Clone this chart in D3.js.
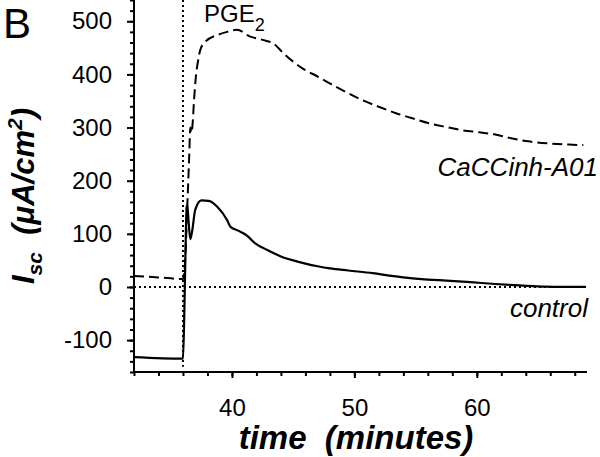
<!DOCTYPE html>
<html>
<head>
<meta charset="utf-8">
<script src="https://cdn.jsdelivr.net/npm/d3@7"></script>
<style>
  html, body { margin: 0; padding: 0; background: #fff; }
  svg { display: block; }
  text { font-family: "Liberation Sans", Arial, sans-serif; fill: #000; }
</style>
</head>
<body>
<svg id="chart" width="600" height="457"></svg>
<script>
// ---- data ----
const inhTime  = [32, 34, 36.0, 36.2, 36.35, 36.5, 36.6, 36.68, 36.78, 36.9, 37.05, 37.2, 37.4, 37.8, 38.8, 39.6, 40.4, 41.5, 42.5, 43.4, 44.2, 45.0, 45.85, 47, 48, 49.3, 50.7, 52, 53.4, 54.8, 56.1, 57.5, 58.8, 60.2, 61.5, 62.8, 64.2, 66, 67.5, 68.7];
const inhValue = [20.5, 18, 15, 60, 150, 240, 300, 290, 305, 350, 395, 421, 445, 461, 474, 480, 484, 471, 465, 458, 440, 424, 410, 396, 383, 367, 351, 339, 327, 317, 308, 301, 295, 291, 287, 280, 274, 270, 268, 267];

const ctrlTime  = [32, 36.0, 36.1, 36.2, 36.3, 36.36, 36.45, 36.6, 36.75, 37.0, 37.5, 38.1, 38.8, 39.6, 39.86, 40.5, 41.2, 41.9, 42.85, 43.95, 45, 46, 47, 48, 49.5, 51.5, 53, 54.2, 56, 57.5, 59.5, 61.5, 63.5, 65.6, 67, 68.9];
const ctrlValue = [-132, -135, -60, 60, 150, 154, 125, 90, 105, 145, 163, 162, 151, 126, 114, 106, 97, 82, 70, 58, 50, 44, 39, 35, 31, 26, 21, 17.5, 14, 12, 9, 5.6, 3, 0.5, 0, 0];

const yMajorTicks = [-100, 0, 100, 200, 300, 400, 500];
const yMinorTicks = d3.range(-160, 541, 20);
const xMajorTicks = [40, 50, 60];
const xMinorTicks = d3.range(32, 69.1, 2);
const stimulusTime = 36;

// ---- layout ----
const svg = d3.select("#chart");
const mLeft = 134, mRight = 587, mTop = 0, mBottom = 372;
const x = d3.scaleLinear().domain([32, 69]).range([mLeft, mRight]);
const y = d3.scaleLinear().domain([-160, 540]).range([mBottom, mTop]);
const plain = d => String(d);

// axes
const yMinor = svg.append("g").attr("transform", `translate(${mLeft},0)`)
  .call(d3.axisLeft(y).tickValues(yMinorTicks).tickSize(4).tickFormat(""));
const yMajor = svg.append("g").attr("transform", `translate(${mLeft},0)`)
  .call(d3.axisLeft(y).tickValues(yMajorTicks).tickSize(7).tickPadding(15).tickFormat(plain));
const xMinor = svg.append("g").attr("transform", `translate(0,${mBottom})`)
  .call(d3.axisBottom(x).tickValues(xMinorTicks).tickSize(4).tickFormat(""));
const xMajor = svg.append("g").attr("transform", `translate(0,${mBottom})`)
  .call(d3.axisBottom(x).tickValues(xMajorTicks).tickSize(6).tickPadding(21).tickFormat(plain));

[yMinor, yMajor, xMinor, xMajor].forEach(g => {
  g.select(".domain").attr("stroke", "#000").attr("stroke-width", 2);
  g.selectAll(".tick line").attr("stroke", "#000").attr("stroke-width", 2);
  g.selectAll(".tick text").style("font-size", "24px").attr("fill", "#000");
});
yMajor.select(".domain").attr("d", `M0,${y(-160)}V${y(540)}`);
yMinor.select(".domain").attr("d", `M0,${y(-160)}V${y(540)}`);
xMajor.select(".domain").attr("d", `M${x(32)},0H${x(69)}`);
xMinor.select(".domain").attr("d", `M${x(32)},0H${x(69)}`);

// reference dotted lines
svg.append("line")
  .attr("x1", x(32)).attr("x2", x(69)).attr("y1", y(0)).attr("y2", y(0))
  .attr("stroke", "#000").attr("stroke-width", 2).attr("stroke-dasharray", "2,3");
svg.append("line")
  .attr("x1", x(stimulusTime)).attr("x2", x(stimulusTime)).attr("y1", y(540)).attr("y2", y(-150))
  .attr("stroke", "#000").attr("stroke-width", 2).attr("stroke-dasharray", "2,3");

// series
const line = d3.line().x(d => x(d[0])).y(d => y(d[1])).curve(d3.curveMonotoneX);
svg.append("path")
  .datum(inhTime.map((t, i) => [t, inhValue[i]]))
  .attr("d", line).attr("fill", "none").attr("stroke", "#000")
  .attr("stroke-width", 2).attr("stroke-dasharray", "10,5");
svg.append("path")
  .datum(ctrlTime.map((t, i) => [t, ctrlValue[i]]))
  .attr("d", line).attr("fill", "none").attr("stroke", "#000")
  .attr("stroke-width", 2.2);

// texts
svg.append("text").attr("x", 3).attr("y", 38).style("font-size", "42px").text("B");

const pge = svg.append("text").attr("x", 204).attr("y", 22).style("font-size", "24px");
pge.append("tspan").text("PGE");
pge.append("tspan").attr("dy", 9).style("font-size", "18px").text("2");

svg.append("text").attr("x", 598).attr("y", 176).attr("text-anchor", "end")
  .style("font-size", "26px").style("font-style", "italic").text("CaCCinh-A01");
svg.append("text").attr("x", 588).attr("y", 317).attr("text-anchor", "end")
  .style("font-size", "26px").style("font-style", "italic").text("control");

svg.append("text").attr("x", 356).attr("y", 449).attr("text-anchor", "middle")
  .style("font-size", "33px").style("font-weight", "bold").style("font-style", "italic")
  .style("white-space", "pre")
  .text("time  (minutes)");

const yl = svg.append("text")
  .attr("transform", "translate(34,196) rotate(-90)")
  .attr("text-anchor", "middle")
  .style("font-size", "31px").style("font-weight", "bold").style("font-style", "italic")
  .style("white-space", "pre");
yl.append("tspan").text("I");
yl.append("tspan").attr("dy", 8).style("font-size", "21px").text("sc");
yl.append("tspan").attr("dy", -8).text("  (\u03BCA/cm");
yl.append("tspan").attr("dy", -12).style("font-size", "21px").text("2");
yl.append("tspan").attr("dy", 12).text(")");
</script>
</body>
</html>
